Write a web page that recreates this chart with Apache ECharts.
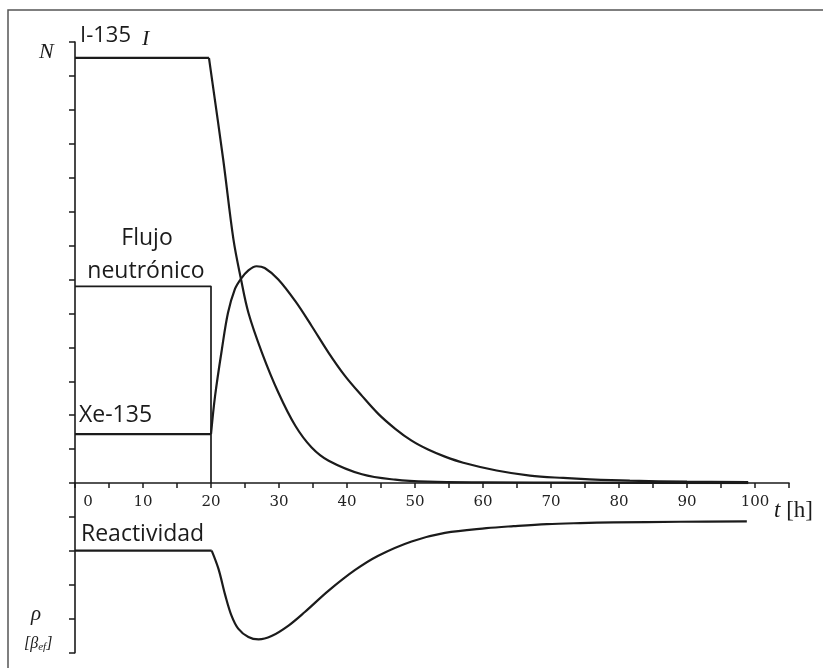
<!DOCTYPE html>
<html>
<head>
<meta charset="utf-8">
<script src="https://cdn.jsdelivr.net/npm/echarts@6/dist/echarts.min.js"></script>
<style>
html,body{margin:0;padding:0;background:#fff;}
#chart{width:823px;height:668px;}
</style>
</head>
<body>
<div id="chart"></div>
<script>
// ---- data (t in hours, N / rho in axis units) ----
var xTickLabels = ['0','10','20','30','40','50','60','70','80','90','100'];

var iodineFlat = [[0, 12.53], [19.7, 12.53]];
var iodineDecay = [[19.7, 12.53], [21.8, 9.53], [23.3, 7.18], [24.4, 6.02], [25.5, 5.02],
  [27.5, 3.84], [29.9, 2.67], [32.4, 1.69], [34.8, 1.05], [37.3, 0.66], [42.2, 0.26],
  [47.1, 0.10], [51.9, 0.04], [60, 0.02], [75, 0.01], [99, 0.0]];

var fluxLevel = [[0, 5.8], [20, 5.8], [20, 0]];

var xenonFlat = [[0, 1.44], [20, 1.44]];
var xenonCurve = [[20, 1.44], [20.6, 2.57], [21.6, 3.94], [22.5, 5.02], [23.5, 5.71],
  [24.4, 6.02], [25.5, 6.27], [26.7, 6.39], [27.9, 6.34], [29.9, 6.0], [32.4, 5.36],
  [34.8, 4.63], [37.3, 3.84], [39.7, 3.16], [42.2, 2.57], [44.6, 2.04], [47.1, 1.60],
  [49.5, 1.25], [52.0, 0.98], [54.4, 0.78], [57.1, 0.60], [62.0, 0.37], [66.9, 0.22],
  [71.8, 0.15], [75.7, 0.11], [81.6, 0.07], [90, 0.04], [99, 0.03]];

var reactivityFlat = [[0, -1.99], [20.1, -1.99]];
var reactivityCurve = [[20.1, -1.99], [21.1, -2.53], [22.1, -3.31], [23.0, -3.90],
  [24.0, -4.29], [25.5, -4.54], [27.0, -4.61], [28.9, -4.51], [31.4, -4.2], [33.8, -3.8],
  [37.3, -3.17], [41.2, -2.56], [44.6, -2.14], [49.5, -1.72], [54.4, -1.47], [60.5, -1.33],
  [64.5, -1.27], [69.4, -1.21], [74.3, -1.18], [79.2, -1.16], [89, -1.14], [98.8, -1.13]];

var INK = '#1b1b1b';
var chart = echarts.init(document.getElementById('chart'), null, {renderer: 'canvas'});

function line(data, smooth, width, gi) {
  return {
    type: 'line', data: data, smooth: smooth ? 0.35 : false,
    xAxisIndex: gi, yAxisIndex: gi,
    showSymbol: false, symbol: 'none', silent: true,
    lineStyle: {color: INK, width: width || 2}
  };
}

var UNIT = 610.7 / 18;
var option = {
  backgroundColor: '#ffffff',
  animation: false,
  grid: [
    {left: 75, right: 34, top: 42, height: 13 * UNIT},
    {left: 75, right: 34, top: 42 + 13 * UNIT, height: 5 * UNIT}
  ],
  xAxis: [{
    gridIndex: 0, type: 'value', min: 0, max: 105, interval: 5,
    axisLine: {lineStyle: {color: INK, width: 1.6}},
    axisTick: {inside: false, length: 5, lineStyle: {color: INK, width: 1.5}},
    splitLine: {show: false},
    axisLabel: {
      margin: 12, color: '#222', fontFamily: 'DejaVu Serif', fontSize: 15,
      formatter: function (v) {
        if (v % 10 !== 0 || v > 100) return '';
        var s = xTickLabels[v / 10];
        return v === 0 ? '{z|' + s + '}' : s;
      },
      rich: {z: {padding: [0, 0, 0, 26], fontFamily: 'DejaVu Serif', fontSize: 15, color: '#222'}}
    }
  }, {
    gridIndex: 1, type: 'value', min: 0, max: 105, show: false
  }],
  yAxis: [{
    gridIndex: 0, type: 'value', min: 0, max: 13, interval: 1,
    axisLine: {lineStyle: {color: INK, width: 1.6}},
    axisTick: {inside: false, length: 6, lineStyle: {color: INK, width: 1.5}},
    axisLabel: {show: false},
    splitLine: {show: false}
  }, {
    gridIndex: 1, type: 'value', min: -5, max: 0, interval: 1,
    axisLine: {lineStyle: {color: INK, width: 1.6}},
    axisTick: {inside: false, length: 6, lineStyle: {color: INK, width: 1.5}},
    axisLabel: {show: false},
    splitLine: {show: false}
  }],
  series: [
    line(iodineFlat, false, 2.2, 0),
    line(iodineDecay, true, 2.2, 0),
    line(fluxLevel, false, 1.7, 0),
    line(xenonFlat, false, 2.2, 0),
    line(xenonCurve, true, 2.2, 0),
    line(reactivityFlat, false, 2.2, 1),
    line(reactivityCurve, true, 2.2, 1)
  ],
  graphic: [
    {type: 'rect', shape: {x: 8, y: 10, width: 840, height: 700}, style: {fill: null, stroke: '#555', lineWidth: 1.5}, silent: true},
    {type: 'text', left: 39, top: 41, style: {text: 'N', font: 'italic 22px "Liberation Serif"', fill: INK}},
    {type: 'text', x: 80, y: 36, style: {text: 'I-135', font: '22px "Open Sans"', fill: INK, textVerticalAlign: 'middle'}},
    {type: 'text', x: 142, y: 39, style: {text: 'I', font: 'italic 22px "Liberation Serif"', fill: INK, textVerticalAlign: 'middle'}},
    {type: 'text', x: 147, y: 238, style: {text: 'Flujo', font: '23px "Open Sans"', fill: INK, textAlign: 'center', textVerticalAlign: 'middle'}},
    {type: 'text', x: 146, y: 271, style: {text: 'neutrónico', font: '23px "Open Sans"', fill: INK, textAlign: 'center', textVerticalAlign: 'middle'}},
    {type: 'text', x: 79, y: 415, style: {text: 'Xe-135', font: '23px "Open Sans"', fill: INK, textVerticalAlign: 'middle'}},
    {type: 'text', x: 81, y: 534, style: {text: 'Reactividad', font: '23px "Open Sans"', fill: INK, textVerticalAlign: 'middle'}},
    {type: 'text', x: 36, y: 614, style: {text: 'ρ', font: 'italic 21px "Liberation Serif"', fill: INK, textAlign: 'center', textVerticalAlign: 'middle'}},
    {type: 'text', x: 24, y: 644, style: {
      text: '[β{s|ef}]', font: 'italic 16px "Liberation Serif"', fill: INK, textVerticalAlign: 'middle',
      rich: {s: {font: 'italic 11px "Liberation Serif"', fill: INK, verticalAlign: 'bottom', padding: [7, 0, 0, 0]}}
    }},
    {type: 'text', x: 774, y: 511, style: {
      text: '{i|t} [h]', font: '23px "Liberation Serif"', fill: INK, textVerticalAlign: 'middle',
      rich: {i: {font: 'italic 23px "Liberation Serif"', fill: INK}}
    }}
  ]
};
chart.setOption(option);
</script>
</body>
</html>
